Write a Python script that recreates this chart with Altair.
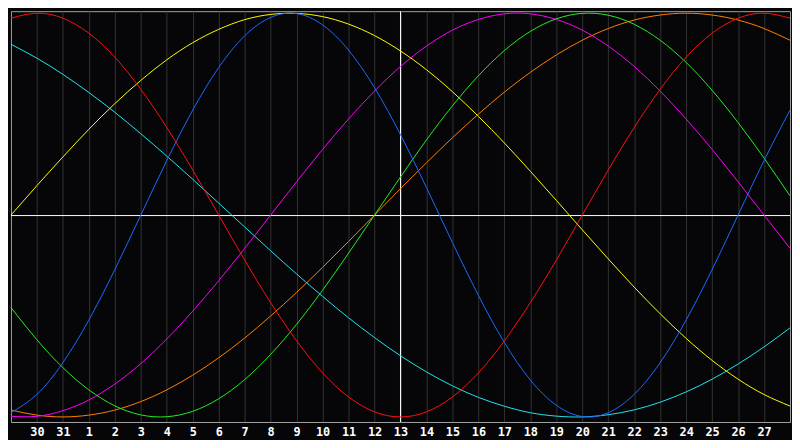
import altair as alt
import pandas as pd

# day index (0..30) across the plot and the calendar day shown at each index
day_index = list(range(31))
day_labels = ["29", "30", "31"] + [str(d) for d in range(1, 29)]
tick_index = list(range(1, 30))

# cycle values, one per day index (range -1..1)
red = [0.975, 1.0, 0.975, 0.901, 0.782, 0.623, 0.434, 0.223, 0.0, -0.223, -0.434,
       -0.623, -0.782, -0.901, -0.975, -1.0, -0.975, -0.901, -0.782, -0.623, -0.434,
       -0.223, 0.0, 0.223, 0.434, 0.623, 0.782, 0.901, 0.975, 1.0, 0.975]
yellow = [0.0, 0.146, 0.288, 0.425, 0.552, 0.667, 0.769, 0.854, 0.920, 0.968, 0.994,
          0.999, 0.983, 0.946, 0.889, 0.813, 0.720, 0.611, 0.489, 0.357, 0.217,
          0.073, -0.073, -0.217, -0.357, -0.489, -0.611, -0.720, -0.813, -0.889, -0.946]
blue = [-0.979, -0.888, -0.731, -0.520, -0.270, 0.0, 0.270, 0.520, 0.731, 0.888, 0.979,
        0.998, 0.942, 0.817, 0.631, 0.398, 0.136, -0.136, -0.398, -0.631, -0.817,
        -0.942, -0.998, -0.979, -0.888, -0.731, -0.520, -0.270, 0.0, 0.270, 0.520]
green = [-0.458, -0.618, -0.756, -0.866, -0.945, -0.990, -0.999, -0.972, -0.910, -0.815,
         -0.690, -0.541, -0.372, -0.189, 0.0, 0.189, 0.372, 0.541, 0.690, 0.815, 0.910,
         0.972, 0.999, 0.990, 0.945, 0.866, 0.756, 0.618, 0.458, 0.282, 0.095]
magenta = [-0.997, -0.997, -0.969, -0.916, -0.837, -0.736, -0.614, -0.476, -0.325, -0.165,
           0.0, 0.165, 0.325, 0.476, 0.614, 0.736, 0.837, 0.916, 0.969, 0.997, 0.997,
           0.969, 0.916, 0.837, 0.736, 0.614, 0.476, 0.325, 0.165, 0.0, -0.165]
orange = [-0.966, -0.991, -1.0, -0.991, -0.966, -0.924, -0.866, -0.793, -0.707, -0.609,
          -0.5, -0.383, -0.259, -0.131, 0.0, 0.131, 0.259, 0.383, 0.5, 0.609, 0.707,
          0.793, 0.866, 0.924, 0.966, 0.991, 1.0, 0.991, 0.966, 0.924, 0.866]
cyan = [0.846, 0.777, 0.697, 0.607, 0.509, 0.403, 0.292, 0.177, 0.059, -0.059, -0.177,
        -0.292, -0.403, -0.509, -0.607, -0.697, -0.777, -0.846, -0.903, -0.947, -0.979,
        -0.996, -1.0, -0.989, -0.965, -0.927, -0.876, -0.813, -0.738, -0.653, -0.559]

series_names = ["cyan", "orange", "magenta", "green", "yellow", "blue", "red"]
series_values = [cyan, orange, magenta, green, yellow, blue, red]
series_colors = ["#1ee6ee", "#ff8000", "#ff00ff", "#22ee22", "#ffff00", "#1a6aff", "#ff1010"]

rows = []
for name, vals in zip(series_names, series_values):
    for k, v in zip(day_index, vals):
        rows.append({"k": k, "v": v, "series": name})
df = pd.DataFrame(rows)

label_expr = "[" + ",".join("'" + s + "'" for s in day_labels) + "][datum.value]"

x_scale = alt.Scale(domain=[0, 30], nice=False, zero=False)
y_scale = alt.Scale(domain=[-1.025, 1.01], nice=False, zero=False)

x_axis = alt.Axis(
    values=tick_index, labelExpr=label_expr, grid=True, gridColor="#333333",
    gridWidth=1, ticks=False, domain=True, domainColor="#a0a0a0", domainWidth=1,
    labelColor="#ffffff", labelFont="DejaVu Sans Mono", labelFontSize=12,
    labelFontWeight="bold", labelPadding=5, labelFlush=False, labelOverlap=False,
    title=None,
)

base_axis = alt.Chart(pd.DataFrame({"k": [0], "v": [0]})).mark_point(opacity=0).encode(
    x=alt.X("k:Q", scale=x_scale, axis=x_axis),
    y=alt.Y("v:Q", scale=y_scale, axis=None),
)

hline = alt.Chart(pd.DataFrame({"v": [0]})).mark_rule(color="#ffffff", strokeWidth=1, yOffset=0.5).encode(
    y=alt.Y("v:Q", scale=y_scale, axis=None)
)
vline = alt.Chart(pd.DataFrame({"k": [15]})).mark_rule(color="#ffffff", strokeWidth=1).encode(
    x=alt.X("k:Q", scale=x_scale, axis=x_axis)
)

lines = alt.Chart(df).mark_line(strokeWidth=1, interpolate="natural").encode(
    x=alt.X("k:Q", scale=x_scale, axis=x_axis),
    y=alt.Y("v:Q", scale=y_scale, axis=None),
    color=alt.Color("series:N", scale=alt.Scale(domain=series_names, range=series_colors), legend=None),
    detail="series:N",
)

chart = alt.layer(base_axis, hline, vline, lines).properties(
    width=792, height=432, padding=0,
    autosize=alt.AutoSizeParams(type="fit", contains="padding"),
    background="#060608",
).configure_view(stroke="#a0a0a0", strokeWidth=1)

chart.save("out.html", embed_options={"renderer": "svg", "actions": False})
